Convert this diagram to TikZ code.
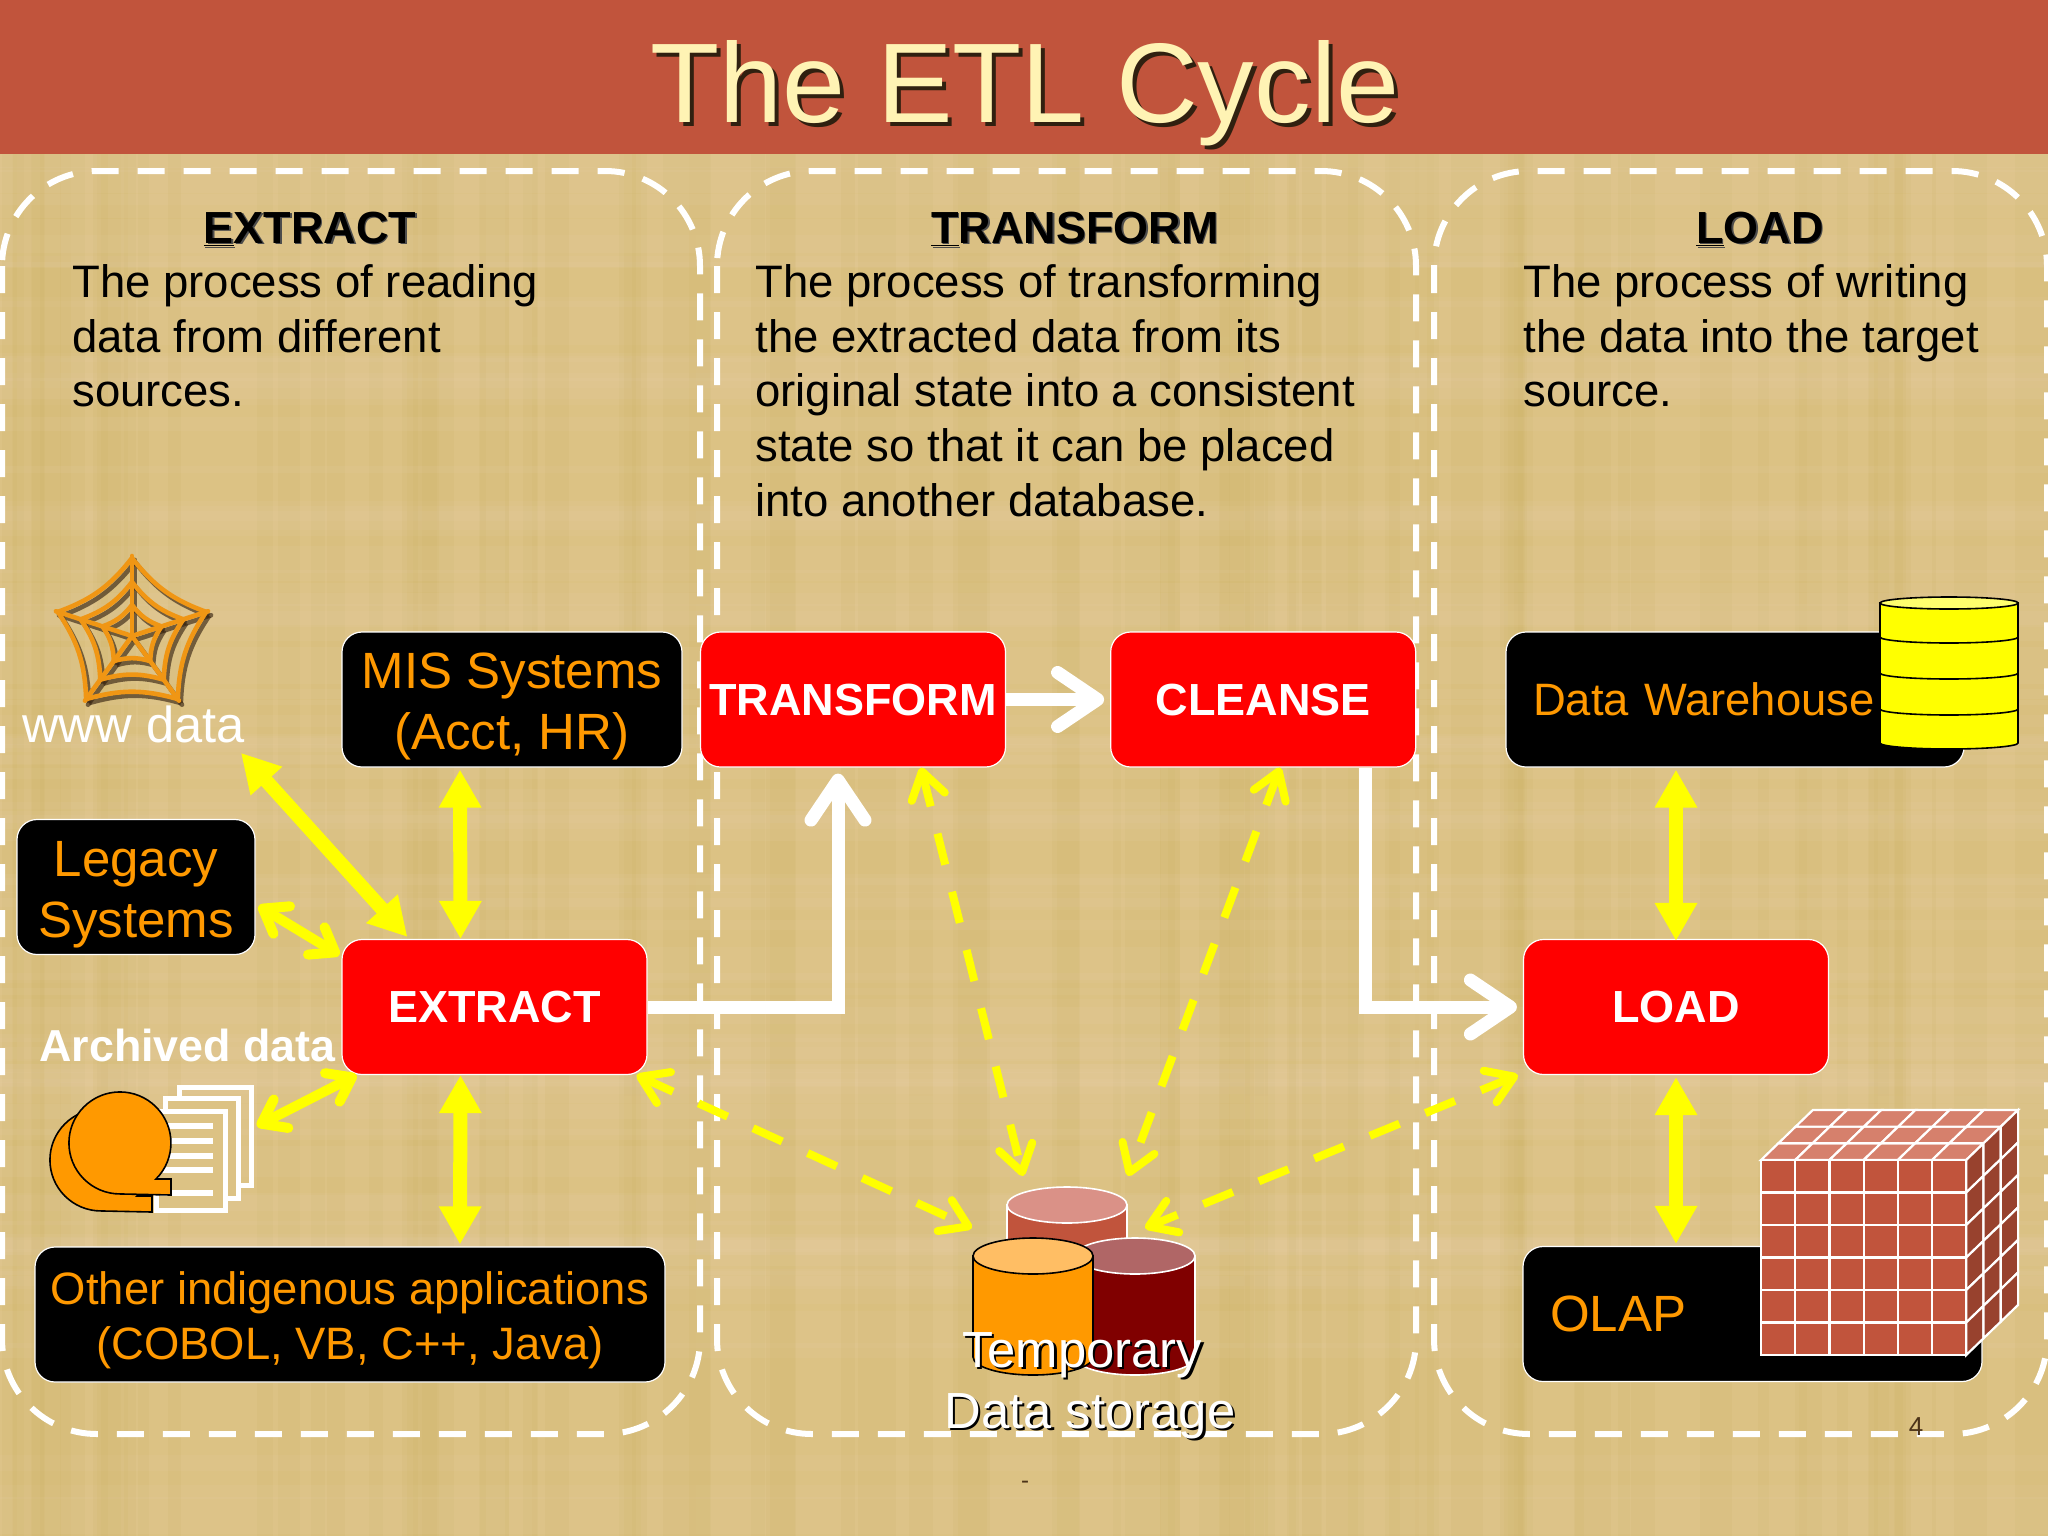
\documentclass[tikz,border=0pt]{standalone}
\usepackage{fontspec}
\setmainfont{Liberation Sans}
\usetikzlibrary{arrows.meta,positioning}

\definecolor{parchment}{RGB}{220,194,132}
\definecolor{straw}{RGB}{204,178,98}
\definecolor{pale}{RGB}{232,208,170}
\definecolor{brick}{RGB}{193,84,60}
\definecolor{brickTop}{RGB}{218,145,135}
\definecolor{brickLit}{RGB}{214,128,108}
\definecolor{brickDark}{RGB}{152,66,46}
\definecolor{amber}{RGB}{255,153,0}
\definecolor{amberTop}{RGB}{255,190,100}
\definecolor{maroon}{RGB}{128,0,0}
\definecolor{maroonTop}{RGB}{176,102,102}
\definecolor{cream}{RGB}{255,243,180}
\definecolor{webline}{RGB}{240,150,20}
\definecolor{lemon}{RGB}{255,255,0}
\definecolor{lemonTop}{RGB}{255,255,110}

%Text with a hard shadow behind it: offset, colour, text
\newcommand{\shadowed}[3]{\makebox[0pt][l]{\hspace{#1}\raisebox{-#1}{\color{#2}#3}}#3}
%First lines of the black boxes sit a little low
\newcommand{\lowbig}{\rule{0pt}{25pt}}
\newcommand{\lowwide}{\rule{0pt}{22.5pt}}
%Upright can: x, top y, bottom y, x radius, y radius, body, lid, line
\newcommand{\drumcan}[8]{
  \draw[fill=#6,draw=#8,line width=.8pt] ({#1-#4},#2) -- ({#1-#4},#3)
    arc[start angle=180,end angle=0,x radius=#4,y radius=#5] -- ({#1+#4},#2) -- cycle;
  \draw[fill=#7,draw=#8,line width=.8pt] (#1,#2) ellipse [x radius=#4,y radius=#5];
}
%Spider web, colour and opacity
\newcommand{\webshape}[2]{
  \foreach \a in {-90,-18,54,126,198} {
    \draw[#1,opacity=#2,line width=2.3pt,line cap=round] (0,0) -- (\a:80);
    \foreach \r in {78,54,31}
      \draw[#1,opacity=#2,line width=2.3pt] (\a:\r) to[bend right=16] ({\a+72}:\r);
  }
}
%Reel with a foot at bottom right
\newcommand{\reelshape}[2]{
  \draw[fill=amber,draw=black,line width=.8pt] ({#1+51},{#2+36}) -- ({#1+36},{#2+36})
    arc[start angle=45,end angle=-270,radius=51] -- ({#1+51},{#2+52}) -- cycle;
}

\tikzset{
  mainnode/.style={rectangle,rounded corners=10pt,draw=white,line width=.6pt,
    minimum height=67.5pt,inner sep=0pt,align=center},
  sourcebox/.style={mainnode,fill=black,text=amber,font=\fontsize{25.5}{30.7}\selectfont},
  widebox/.style={sourcebox,font=\fontsize{22.7}{27.4}\selectfont},
  stepbox/.style={mainnode,fill=red,text=white,minimum width=152.5pt,
    font=\fontsize{22.5}{27}\selectfont\bfseries},
  phasebox/.style={draw=white,line width=3pt,dash pattern=on 13.5pt off 9.5pt,rounded corners=47.5pt},
  heading/.style={anchor=base,inner sep=0pt,font=\fontsize{22.5}{27}\selectfont\bfseries},
  bodytext/.style={anchor=north west,inner sep=0pt,align=left,font=\fontsize{22.75}{27.4}\selectfont},
  freetext/.style={anchor=base west,inner sep=0pt,text=white},
  linkarrow/.style={<->,>={Triangle[length=19pt,width=20pt]},draw=lemon,line width=7pt},
  barbarrow/.style={<->,>={Straight Barb[length=11pt,width=16pt,round]},draw=lemon,line width=5pt},
  dasharrow/.style={<->,>={Straight Barb[length=13pt,width=17pt,round]},draw=lemon,line width=4pt,
    dash pattern=on 16pt off 14pt},
  flowarrow/.style={->,>={Straight Barb[length=20pt,width=27pt,round]},draw=white,line width=6.5pt,
    shorten >=3pt},
  cubecell/.style={draw=white,line width=1.1pt}
}

\begin{document}
\begin{tikzpicture}[x=.5pt,y=-.5pt,node distance=52pt]
  \useasboundingbox (0,0) rectangle (2048,1536);

  %Paper background%
  \fill[parchment] (0,0) rectangle (2048,1536);
  \pgfmathsetseed{11}
  \foreach \i in {1,...,90} {
    \pgfmathsetmacro{\px}{rnd*2048}
    \pgfmathsetmacro{\py}{rnd*1536}
    \pgfmathsetmacro{\pw}{4+rnd*34}
    \fill[straw,opacity=.13] (\px,0) rectangle ({\px+\pw},1536);
    \fill[pale,opacity=.13] (0,\py) rectangle (2048,{\py+\pw});
  }

  %Title band%
  \fill[brick] (0,0) rectangle (2048,154);
  \node[anchor=base,inner sep=0pt,text=cream,font=\fontsize{56.6}{60}\selectfont] (title) at (1025,122)
    {\shadowed{2pt}{black!75!brown}{The ETL Cycle}};

  %Three dashed panels%
  \draw[phasebox] (2,171) rectangle (700,1434);
  \draw[phasebox] (717,171) rectangle (1416,1434);
  \draw[phasebox] (1434,171) rectangle (2047,1434);

  \node[heading] (extracthead) at (310,243) {\shadowed{.8pt}{black!70}{\underline{E}XTRACT}};
  \node[heading] (transformhead) at (1075,243) {\shadowed{.8pt}{black!70}{\underline{T}RANSFORM}};
  \node[heading] (loadhead) at (1760,243) {\shadowed{.8pt}{black!70}{\underline{L}OAD}};

  \node[bodytext] (extracttext) at (72,264) {The process of reading\\data from different\\sources.};
  \node[bodytext] (transformtext) at (755,264) {The process of transforming\\the extracted data from its\\original state into a consistent\\state so that it can be placed\\into another database.};
  \node[bodytext] (loadtext) at (1523,264) {The process of writing\\the data into the target\\source.};

  %Boxes%
  \node[sourcebox,minimum width=170pt] (mis) at (512,699.5) {\lowbig MIS Systems\\(Acct, HR)};
  \node[sourcebox,minimum width=119pt] (legacy) at (136,887) {\lowbig Legacy\\Systems};
  \node[widebox,minimum width=315pt] (other) at (350,1314.5) {\lowwide Other indigenous applications\\(COBOL, VB, C++, Java)};
  \node[stepbox] (extract) at (494.5,1007) {EXTRACT};
  \node[stepbox] (transform) at (853,699.5) {TRANSFORM};
  \node[stepbox,right=of transform] (cleanse) {CLEANSE};
  \node[stepbox] (load) at (1676,1007) {LOAD};
  \node[widebox,text width=202pt,inner xsep=13.5pt,align=left] (warehouse) at (1735,699.5) {Data Warehouse};
  \node[sourcebox,text width=202.5pt,inner xsep=13.5pt,align=left] (olap) at (1752.5,1314) {OLAP};

  %Free labels%
  \node[freetext,font=\fontsize{25.3}{30}\selectfont] (www) at (22,742) {www data};
  \node[freetext,font=\fontsize{22.4}{27}\selectfont\bfseries] (archived) at (39,1061) {Archived data};

  %Web icon%
  \begin{scope}[shift={(135,640)}]
    \webshape{black!70!brown}{.65}
  \end{scope}
  \begin{scope}[shift={(132,636)}]
    \webshape{webline}{1}
  \end{scope}

  %Stack of pages and two reels%
  \draw[draw=white,line width=2.5pt] (179,1087) rectangle (251,1185);
  \draw[fill=parchment,draw=white,line width=2.5pt] (165,1098) rectangle (238,1198);
  \draw[fill=parchment,draw=white,line width=2.5pt] (156,1111) rectangle (225,1210);
  \foreach \y in {1126,1141,1156,1170,1193}
    \draw[white,line width=3pt] (160,\y) -- (213,\y);
  \reelshape{101}{1160}
  \reelshape{120}{1143}

  %Warehouse drum%
  \drumcan{1949}{603}{743}{69}{6}{lemon}{lemonTop}{black}
  \foreach \y in {637,673,709}
    \draw[black,line width=.8pt] (1880,\y) arc[start angle=180,end angle=0,x radius=69,y radius=6];

  %OLAP cube%
  \begin{scope}[shift={(1761,1160)}]
    \def\cw{34.2} \def\ch{32.5} \def\dx{17.3} \def\dy{16.7}
    \foreach \k in {0,1,2} {
      \foreach \c in {0,...,5}
        \filldraw[cubecell,fill=brickLit] ({\c*\cw+\k*\dx},{-\k*\dy}) -- ({(\c+1)*\cw+\k*\dx},{-\k*\dy})
          -- ({(\c+1)*\cw+(\k+1)*\dx},{-(\k+1)*\dy}) -- ({\c*\cw+(\k+1)*\dx},{-(\k+1)*\dy}) -- cycle;
      \foreach \r in {0,...,5}
        \filldraw[cubecell,fill=brickDark] ({6*\cw+\k*\dx},{\r*\ch-\k*\dy}) -- ({6*\cw+(\k+1)*\dx},{\r*\ch-(\k+1)*\dy})
          -- ({6*\cw+(\k+1)*\dx},{(\r+1)*\ch-(\k+1)*\dy}) -- ({6*\cw+\k*\dx},{(\r+1)*\ch-\k*\dy}) -- cycle;
    }
    \foreach \c in {0,...,5}
      \foreach \r in {0,...,5}
        \filldraw[cubecell,fill=brick] ({\c*\cw},{\r*\ch}) rectangle ({(\c+1)*\cw},{(\r+1)*\ch});
  \end{scope}

  %Temporary storage cans%
  \drumcan{1067}{1205}{1330}{60}{18}{brick}{brickTop}{white}
  \drumcan{1135}{1256}{1357}{60}{18}{maroon}{maroonTop}{white}
  \drumcan{1033}{1256}{1357}{60}{18}{amber}{amberTop}{black}
  \node[anchor=base,inner sep=0pt,text=white,font=\fontsize{25.4}{30}\selectfont] (temporary) at (1082,1367)
    {\shadowed{1.2pt}{black}{Temporary}};
  \node[anchor=base,inner sep=0pt,text=white,font=\fontsize{25.4}{30}\selectfont] (storage) at (1090,1428)
    {\shadowed{1.2pt}{black}{Data storage}};

  %Page marks%
  \node[inner sep=0pt,text=black!60!brown,font=\fontsize{13}{15}\selectfont] (pagenum) at (1916,1427) {4};
  \node[inner sep=0pt,text=black!60!brown,font=\fontsize{12}{14}\selectfont] (dash) at (1025,1485) {-};

  %Free ends%
  \coordinate (archive) at (257,1126);
  \coordinate (tempwest) at (972,1228);
  \coordinate (templeft) at (1023,1176);
  \coordinate (tempright) at (1128,1176);
  \coordinate (tempeast) at (1145,1228);

  %Sources to EXTRACT
  \draw[linkarrow] ([xshift=-26pt,yshift=-1pt]mis.south) -- ([xshift=-17pt]extract.north);
  \draw[linkarrow] ([xshift=-17pt]extract.south) -- ([xshift=55pt,yshift=1pt]other.north);
  \draw[linkarrow] ([shift={(-2pt,-5pt)}]www.south east) -- ([xshift=33pt,yshift=1pt]extract.north west);
  \draw[barbarrow] ([shift={(1.5pt,-9.5pt)}]legacy.east) -- ([shift={(-1pt,-8pt)}]extract.north west);
  \draw[barbarrow] (archive) -- ([xshift=7.5pt]extract.south west);

  %EXTRACT through to LOAD
  \draw[flowarrow] (extract.east) -| ([xshift=-7.5pt]transform.south);
  \draw[flowarrow] (transform.east) -- (cleanse.west);
  \draw[flowarrow] ([xshift=51pt]cleanse.south) |- (load.west);

  %LOAD to its targets
  \draw[linkarrow] ([yshift=-1pt]load.north) -- ([xshift=-29.5pt,yshift=-1pt]warehouse.south);
  \draw[linkarrow] ([yshift=-1pt]load.south) -- ([xshift=-38.25pt,yshift=1pt]olap.north);

  %Temporary storage links
  \draw[dasharrow] ([xshift=-5.5pt]extract.south east) -- (tempwest);
  \draw[dasharrow] ([xshift=34pt]transform.south) -- (templeft);
  \draw[dasharrow] ([xshift=8.5pt]cleanse.south) -- (tempright);
  \draw[dasharrow] ([xshift=-2.5pt]load.south west) -- (tempeast);
\end{tikzpicture}
\end{document}
